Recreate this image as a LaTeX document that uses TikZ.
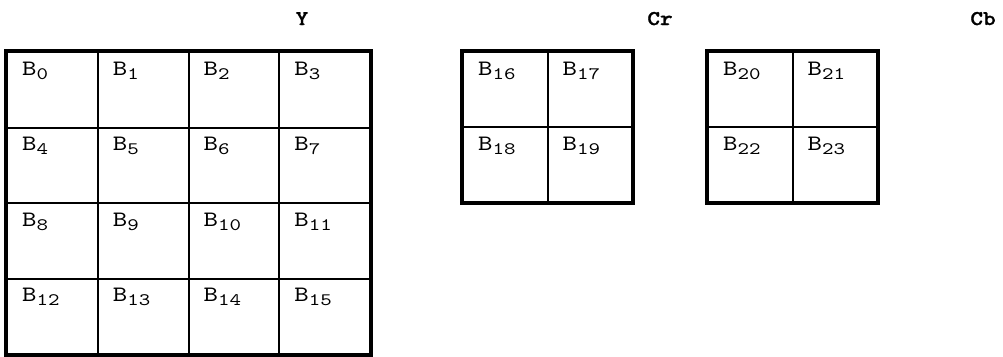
\documentclass[tikz,border=0pt]{standalone}
\usepackage{fontspec}
\newfontfamily\cellfont[FakeStretch=1.25]{lmmono10-regular.otf}
\newfontfamily\ttbold[FakeStretch=1.15, FakeBold=1.2]{lmmonolt10-bold.otf}
\usetikzlibrary{calc}

\tikzset{
  cell/.style={rectangle, draw=black, line width=2pt},
  ycell/.style={cell, minimum width=90.75pt, minimum height=75.5pt},
  ccell/.style={cell, minimum width=84.5pt, minimum height=75pt},
  frame/.style={draw=black, line width=3.5pt},
  blabel/.style={anchor=base west, font=\cellfont\fontsize{22pt}{22pt}\selectfont},
  title/.style={anchor=base, font=\ttbold\fontsize{21pt}{21pt}\selectfont},
}
\newcommand{\blk}[1]{B{\fontsize{17.5pt}{17.5pt}\selectfont\raisebox{-4pt}{#1}}}

\begin{document}
\begin{tikzpicture}
[every node/.style={inner sep=0pt}]
\useasboundingbox (0pt, 0pt) rectangle (1003pt, -356pt);
% titles
\node (Y) [title] at (302pt, -25pt) {Y};
\node (Cr) [title] at (660pt, -25pt) {Cr};
\node (Cb) [title] at (983pt, -25pt) {Cb};
% Y blocks
\node (b0) [ycell] at (52.375pt, -89.75pt) {};
\node (b1) [ycell] at (143.125pt, -89.75pt) {};
\node (b2) [ycell] at (233.875pt, -89.75pt) {};
\node (b3) [ycell] at (324.625pt, -89.75pt) {};
\node (b4) [ycell] at (52.375pt, -165.25pt) {};
\node (b5) [ycell] at (143.125pt, -165.25pt) {};
\node (b6) [ycell] at (233.875pt, -165.25pt) {};
\node (b7) [ycell] at (324.625pt, -165.25pt) {};
\node (b8) [ycell] at (52.375pt, -240.75pt) {};
\node (b9) [ycell] at (143.125pt, -240.75pt) {};
\node (b10) [ycell] at (233.875pt, -240.75pt) {};
\node (b11) [ycell] at (324.625pt, -240.75pt) {};
\node (b12) [ycell] at (52.375pt, -316.25pt) {};
\node (b13) [ycell] at (143.125pt, -316.25pt) {};
\node (b14) [ycell] at (233.875pt, -316.25pt) {};
\node (b15) [ycell] at (324.625pt, -316.25pt) {};
% Cr blocks
\node (b16) [ccell] at (505.25pt, -89.5pt) {};
\node (b17) [ccell] at (589.75pt, -89.5pt) {};
\node (b18) [ccell] at (505.25pt, -164.5pt) {};
\node (b19) [ccell] at (589.75pt, -164.5pt) {};
% Cb blocks
\node (b20) [ccell] at (750.25pt, -89.5pt) {};
\node (b21) [ccell] at (834.75pt, -89.5pt) {};
\node (b22) [ccell] at (750.25pt, -164.5pt) {};
\node (b23) [ccell] at (834.75pt, -164.5pt) {};
% outer frames
\draw [frame] (b0.north west) rectangle (b15.south east);
\draw [frame] (b16.north west) rectangle (b19.south east);
\draw [frame] (b20.north west) rectangle (b23.south east);
% block labels
\node (t0) [blabel] at ($(b0.north west)+(16pt,-24pt)$) {\blk{0}};
\node (t1) [blabel] at ($(b1.north west)+(16pt,-24pt)$) {\blk{1}};
\node (t2) [blabel] at ($(b2.north west)+(16pt,-24pt)$) {\blk{2}};
\node (t3) [blabel] at ($(b3.north west)+(16pt,-24pt)$) {\blk{3}};
\node (t4) [blabel] at ($(b4.north west)+(16pt,-24pt)$) {\blk{4}};
\node (t5) [blabel] at ($(b5.north west)+(16pt,-24pt)$) {\blk{5}};
\node (t6) [blabel] at ($(b6.north west)+(16pt,-24pt)$) {\blk{6}};
\node (t7) [blabel] at ($(b7.north west)+(16pt,-24pt)$) {\blk{7}};
\node (t8) [blabel] at ($(b8.north west)+(16pt,-24pt)$) {\blk{8}};
\node (t9) [blabel] at ($(b9.north west)+(16pt,-24pt)$) {\blk{9}};
\node (t10) [blabel] at ($(b10.north west)+(16pt,-24pt)$) {\blk{10}};
\node (t11) [blabel] at ($(b11.north west)+(16pt,-24pt)$) {\blk{11}};
\node (t12) [blabel] at ($(b12.north west)+(16pt,-24pt)$) {\blk{12}};
\node (t13) [blabel] at ($(b13.north west)+(16pt,-24pt)$) {\blk{13}};
\node (t14) [blabel] at ($(b14.north west)+(16pt,-24pt)$) {\blk{14}};
\node (t15) [blabel] at ($(b15.north west)+(16pt,-24pt)$) {\blk{15}};
\node (t16) [blabel] at ($(b16.north west)+(16pt,-24pt)$) {\blk{16}};
\node (t17) [blabel] at ($(b17.north west)+(16pt,-24pt)$) {\blk{17}};
\node (t18) [blabel] at ($(b18.north west)+(16pt,-24pt)$) {\blk{18}};
\node (t19) [blabel] at ($(b19.north west)+(16pt,-24pt)$) {\blk{19}};
\node (t20) [blabel] at ($(b20.north west)+(16pt,-24pt)$) {\blk{20}};
\node (t21) [blabel] at ($(b21.north west)+(16pt,-24pt)$) {\blk{21}};
\node (t22) [blabel] at ($(b22.north west)+(16pt,-24pt)$) {\blk{22}};
\node (t23) [blabel] at ($(b23.north west)+(16pt,-24pt)$) {\blk{23}};
\end{tikzpicture}
\end{document}
